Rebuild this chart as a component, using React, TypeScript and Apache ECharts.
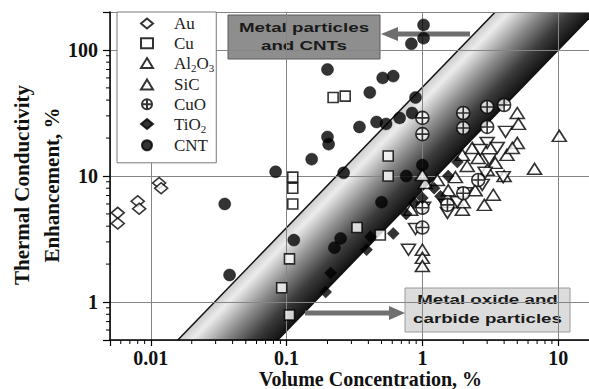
import React, { useEffect, useRef } from 'react';
import * as echarts from 'echarts';

const X_RANGE = [0.005, 20];
const Y_RANGE = [0.5, 200];
const X_TICK_LABELS = ['0.01', '0.1', '1', '10'];
const Y_TICK_LABELS = ['1', '10', '100'];
const MINOR_MULTIPLIERS = [2, 3, 4, 5, 6, 7, 8, 9];
const DECADES = [0.001, 0.01, 0.1, 1, 10, 100];

const SERIES_NAMES = ['Au', 'Cu', 'Al2O3', 'SiC', 'CuO', 'TiO2', 'CNT'];
const LEGEND_LABELS: Record<string, string> = {
  Au: '{n|Au}',
  Cu: '{n|Cu}',
  Al2O3: '{n|Al}{s|2}{n|O}{s|3}',
  SiC: '{n|SiC}',
  CuO: '{n|CuO}',
  TiO2: '{n|TiO}{s|2}',
  CNT: '{n|CNT}',
};

const AU_DATA = [[0.0057, 5.1], [0.0057, 4.2], [0.008, 6.3], [0.0082, 5.5], [0.0115, 8.8], [0.0119, 8.0]];
const CU_DATA = [[0.111, 9.8], [0.111, 8.0], [0.111, 6.0], [0.105, 2.2], [0.092, 1.3], [0.105, 0.79], [0.22, 42], [0.27, 43], [0.56, 14.4], [0.56, 10], [0.33, 3.9], [0.49, 3.4]];
const AL2O3_DATA = [[5.0, 31.6], [5.1, 25.9], [5.0, 18.3], [10.2, 20.8], [6.7, 11.4], [4.0, 10], [3.44, 12.7], [1.97, 14.7], [2.14, 12.0], [4.2, 14.7], [3.0, 11.2], [1.0, 2.6], [1.0, 2.24], [1.0, 1.93], [1.97, 5.4], [2.0, 6.2], [3.33, 7.1], [2.45, 7.7], [0.82, 5.4], [1.05, 8.8], [1.29, 9.3], [1.75, 9.8], [2.58, 13.9], [2.33, 16.7], [4.6, 16.7], [1.55, 7.7], [2.86, 5.9], [1.0, 10.2]];
const SIC_DATA = [[4.1, 22.4], [3.0, 18.3], [3.56, 16.7], [3.11, 13.6], [0.79, 2.6], [0.89, 3.8], [1.02, 5.6], [1.48, 5.9], [1.53, 5.1], [1.81, 6.2], [2.07, 7.3], [2.76, 8.5], [3.94, 9.8], [2.9, 10.6], [2.67, 16.1]];
const CUO_DATA = [[1.0, 28.9], [1.0, 21.5], [2.0, 31.6], [2.0, 24], [3.0, 35.3], [3.0, 24.5], [4.0, 36.6], [2.0, 7.3], [2.58, 9.3], [1.53, 5.9], [1.0, 3.9], [1.0, 5.6]];
const TIO2_DATA = [[0.194, 1.2], [0.211, 1.7], [0.388, 2.6], [0.415, 3.3], [0.61, 3.5], [0.76, 5.0], [0.87, 6.1], [1.0, 6.7], [1.22, 8.0], [1.36, 6.9], [1.55, 10], [1.81, 12.9]];
const CNT_DATA = [[1.02, 158], [1.02, 124], [0.83, 112], [0.2, 70], [0.51, 60], [0.61, 62], [0.41, 46], [0.89, 42], [0.84, 31.6], [0.68, 28.9], [0.46, 26.8], [0.54, 25.9], [0.344, 24.5], [0.2, 20.4], [0.204, 17.9], [0.153, 13.6], [0.083, 10.8], [0.263, 10.6], [0.76, 10], [1.0, 12.2], [0.035, 6.0], [0.038, 1.64], [0.113, 3.1], [0.5, 6.2], [0.25, 3.2], [0.225, 2.7]];

// Band edges (data space)
const BAND_LEFT_EDGE = [[0.0158, 0.5], [3.44, 200]];
const BAND_RIGHT_EDGE = [[0.086, 0.5], [18.7, 200]];

const SERIF = '"Liberation Serif", "Times New Roman", serif';
const SANS = '"Liberation Sans", Arial, sans-serif';

function fmt(v: number) {
  return String(parseFloat(Number(v).toPrecision(6)));
}

export default function App() {
  const ref = useRef<HTMLDivElement>(null);
  useEffect(() => {
    if (!ref.current) return;
    const chart = echarts.init(ref.current, null, { renderer: 'svg' });

    const minorX: number[][] = [];
    const minorY: number[][] = [];
    DECADES.forEach((d) => {
      MINOR_MULTIPLIERS.forEach((m) => {
        const v = d * m;
        if (v > X_RANGE[0] * 1.0001 && v < X_RANGE[1] * 0.9999) minorX.push([v, Y_RANGE[0], 0]);
        if (v > Y_RANGE[0] * 1.0001 && v < Y_RANGE[1] * 0.9999) minorY.push([X_RANGE[0], v, 1]);
      });
    });

    const openStyle = { color: '#ffffff', borderColor: '#000000', borderWidth: 1.6 };
    const filledStyle = { color: '#000000', borderColor: '#000000', borderWidth: 0.5 };

    const scatter = (name: string, data: number[][], symbol: string, size: any, style: any, rotate = 0) => ({
      type: 'scatter',
      name,
      data,
      symbol,
      symbolSize: size,
      symbolRotate: rotate,
      itemStyle: style,
      z: 3,
      emphasis: { disabled: true },
    });

    const cuoSymbol = 'path://M2,12 A10,10 0 1,0 22,12 A10,10 0 1,0 2,12 Z M2,12 L22,12 M12,2 L12,22';

    const option: any = {
      animation: false,
      backgroundColor: '#ffffff',
      grid: { left: 110, top: 12, width: 489, height: 328, containLabel: false, outerBoundsMode: 'none' },
      xAxis: {
        type: 'log',
        logBase: 10,
        min: X_RANGE[0],
        max: X_RANGE[1],
        axisLine: { show: true, lineStyle: { color: '#000', width: 1.5 } },
        axisTick: { show: true, inside: false, length: 6, lineStyle: { color: '#000', width: 1.2 } },
        minorTick: { show: false },
        axisLabel: {
          formatter: (v: number) => (X_TICK_LABELS.includes(fmt(v)) ? fmt(v) : ''),
          fontFamily: SERIF,
          fontWeight: 'bold',
          fontSize: 20,
          lineHeight: 20,
          color: '#111',
          margin: 8,
        },
        splitLine: { show: true, lineStyle: { color: '#858585', width: 1 } },
        name: 'Volume Concentration, %',
        nameLocation: 'middle',
        nameGap: 29,
        nameMoveOverlap: false,
        nameTextStyle: { fontFamily: SERIF, fontWeight: 'bold', fontSize: 20, lineHeight: 20, color: '#111', padding: [0, 0, 0, 32] },
      },
      yAxis: {
        type: 'log',
        logBase: 10,
        min: Y_RANGE[0],
        max: Y_RANGE[1],
        axisLine: { show: true, lineStyle: { color: '#000', width: 1.5 } },
        axisTick: { show: true, inside: false, length: 7, lineStyle: { color: '#000', width: 1.2 } },
        minorTick: { show: false },
        axisLabel: {
          formatter: (v: number) => (Y_TICK_LABELS.includes(fmt(v)) ? fmt(v) : ''),
          fontFamily: SERIF,
          fontWeight: 'bold',
          fontSize: 20,
          color: '#111',
          margin: 12,
        },
        splitLine: { show: true, lineStyle: { color: '#858585', width: 1 } },
        name: 'Thermal Conductivity\nEnhancement, %',
        nameLocation: 'middle',
        nameRotate: 90,
        nameGap: 43,
        nameMoveOverlap: false,
        nameTextStyle: { fontFamily: SERIF, fontWeight: 'bold', fontSize: 21, color: '#111', lineHeight: 30, padding: [0, 18, 0, 0] },
      },
      legend: {
        data: SERIES_NAMES,
        orient: 'vertical',
        left: 117,
        top: 12,
        padding: [3, 2, 9, 23],
        itemWidth: 12,
        itemHeight: 10,
        itemGap: 2.8,
        borderColor: '#7a7a7a',
        borderWidth: 1,
        borderRadius: 0,
        backgroundColor: '#ffffff',
        selectedMode: false,
        formatter: (name: string) => LEGEND_LABELS[name] || name,
        textStyle: {
          fontFamily: SERIF,
          fontSize: 17,
          color: '#222',
          padding: [0, 0, 0, 16],
          rich: {
            n: { fontFamily: SERIF, fontSize: 17, color: '#222', lineHeight: 20 },
            s: { fontFamily: SERIF, fontSize: 11, color: '#222', lineHeight: 8, verticalAlign: 'bottom' },
          },
        },
      },
      series: [
        {
          type: 'custom',
          name: 'band',
          z: -1,
          clip: true,
          silent: true,
          data: [[1, 1]],
          renderItem: (_params: any, api: any) => {
            const L0 = api.coord(BAND_LEFT_EDGE[0]);
            const L1 = api.coord(BAND_LEFT_EDGE[1]);
            const R0 = api.coord(BAND_RIGHT_EDGE[0]);
            const R1 = api.coord(BAND_RIGHT_EDGE[1]);
            const dx = L1[0] - L0[0];
            const dy = L1[1] - L0[1];
            const len = Math.hypot(dx, dy);
            const nx = -dy / len;
            const ny = dx / len;
            const w = (R0[0] - L0[0]) * nx + (R0[1] - L0[1]) * ny;
            const grad = new echarts.graphic.LinearGradient(
              L0[0], L0[1], L0[0] + nx * w, L0[1] + ny * w,
              [
                { offset: 0, color: '#cccccc' },
                { offset: 0.14, color: '#ececec' },
                { offset: 0.45, color: '#8e8e8e' },
                { offset: 0.75, color: '#3c3c3c' },
                { offset: 1, color: '#121212' },
              ],
              true
            );
            return {
              type: 'group',
              children: [
                { type: 'polygon', shape: { points: [L0, L1, R1, R0] }, style: { fill: grad } },
                { type: 'line', shape: { x1: L0[0], y1: L0[1], x2: L1[0], y2: L1[1] }, style: { stroke: '#111', lineWidth: 1.5 } },
                { type: 'line', shape: { x1: R0[0], y1: R0[1], x2: R1[0], y2: R1[1] }, style: { stroke: '#111', lineWidth: 1.5 } },
              ],
            };
          },
        },
        {
          type: 'custom',
          name: 'minorTicks',
          silent: true,
          clip: false,
          z: 2,
          data: minorX.concat(minorY),
          renderItem: (_params: any, api: any) => {
            const p = api.coord([api.value(0), api.value(1)]);
            const kind = api.value(2);
            const shape = kind === 0
              ? { x1: p[0], y1: p[1], x2: p[0], y2: p[1] + 4 }
              : { x1: p[0], y1: p[1], x2: p[0] - 4, y2: p[1] };
            return { type: 'line', shape, style: { stroke: '#000', lineWidth: 1 } };
          },
        },
        scatter('Au', AU_DATA, 'diamond', [13, 11], openStyle),
        scatter('Cu', CU_DATA, 'rect', 10, openStyle),
        scatter('Al2O3', AL2O3_DATA, 'triangle', [14, 11], openStyle),
        scatter('SiC', SIC_DATA, 'triangle', [14, 11], openStyle, 180),
        scatter('CuO', CUO_DATA, cuoSymbol, 13, openStyle),
        scatter('TiO2', TIO2_DATA, 'diamond', [12, 12], filledStyle),
        scatter('CNT', CNT_DATA, 'circle', 12, filledStyle),
      ],
      graphic: [
        {
          type: 'group',
          z: 100,
          children: [
            { type: 'rect', shape: { x: 228, y: 15, width: 152, height: 44 }, style: { fill: '#8e8e8e', stroke: '#5a5a5a', lineWidth: 1 } },
            {
              type: 'text', x: 304, y: 37, scaleX: 1.5,
              style: { text: 'Metal particles\nand CNTs', fontFamily: SANS, fontWeight: 'bold', fontSize: 12.5, lineHeight: 18, fill: '#1a1a1a', align: 'center', verticalAlign: 'middle', textAlign: 'center', textVerticalAlign: 'middle' },
            },
            { type: 'line', shape: { x1: 396, y1: 34, x2: 470, y2: 34 }, style: { stroke: '#6e6e6e', lineWidth: 5 } },
            { type: 'polygon', shape: { points: [[381, 34], [398, 27], [398, 41]] }, style: { fill: '#6e6e6e' } },

            { type: 'rect', shape: { x: 405, y: 288, width: 165, height: 44 }, style: { fill: '#dcdcdc', stroke: '#9a9a9a', lineWidth: 1 } },
            {
              type: 'text', x: 487.5, y: 309.5, scaleX: 1.5,
              style: { text: 'Metal oxide and\ncarbide particles', fontFamily: SANS, fontWeight: 'bold', fontSize: 12.5, lineHeight: 19, fill: '#1a1a1a', align: 'center', verticalAlign: 'middle', textAlign: 'center', textVerticalAlign: 'middle' },
            },
            { type: 'line', shape: { x1: 305, y1: 313, x2: 391, y2: 313 }, style: { stroke: '#707070', lineWidth: 5 } },
            { type: 'polygon', shape: { points: [[405, 313], [389, 306], [389, 320]] }, style: { fill: '#707070' } },
          ],
        },
      ],
    };

    chart.setOption(option);
    return () => chart.dispose();
  }, []);

  return (
    <div style={{ position: 'absolute', left: 0, top: 0, width: 589, height: 389, overflow: 'hidden', background: '#fff' }}>
      <div ref={ref} style={{ width: 589, height: 389 }} />
    </div>
  );
}
